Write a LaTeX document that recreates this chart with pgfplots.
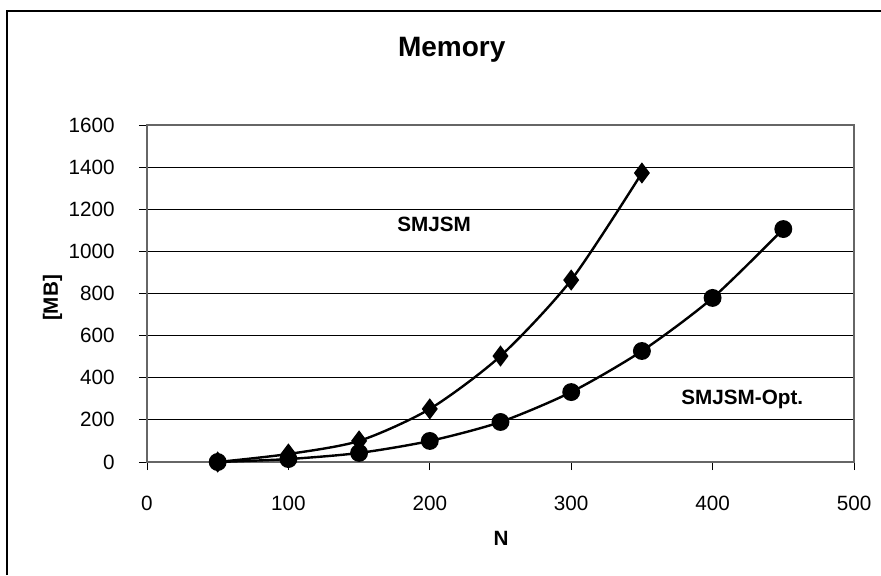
\documentclass[border=0pt]{standalone}
\usepackage{pgfplots}
\pgfplotsset{compat=1.18}
\usepackage{fontspec}
\setmainfont{Liberation Sans}
\begin{document}
\begin{tikzpicture}
\begin{axis}[
  scale only axis,
  width=530.25pt, height=252.75pt,
  xmin=0, xmax=500, ymin=0, ymax=1600,
  xtick={0,100,...,500}, ytick={0,200,...,1600},
  tick align=outside, major tick length=6pt,
  tick style={black, line width=0.6pt},
  xtick pos=bottom, ytick pos=left,
  ymajorgrids, major grid style={black, line width=0.6pt},
  axis line style={gray!80!black, line width=0.8pt},
  /pgf/number format/assume math mode=true,
  /pgf/number format/1000 sep={},
  tick label style={font=\fontsize{15.5}{17}\selectfont, inner sep=0pt},
  xticklabel style={anchor=north, yshift=-19.5pt},
  yticklabel style={anchor=east, xshift=-18pt},
  clip=false,
]
\addplot[black, line width=1.8pt, smooth, tension=0.45, mark=diamond*, mark size=6.5pt, mark options={solid}]
 coordinates {(50,0) (100,38) (150,100) (200,252) (250,503) (300,864) (350,1372)};
\addplot[black, line width=1.8pt, smooth, tension=0.45, mark=*, mark size=5.8pt]
 coordinates {(50,0) (100,14) (150,43) (200,100) (250,190) (300,332) (350,527) (400,779) (450,1106)};
\node[anchor=base, font=\bfseries\fontsize{15.5}{17}\selectfont] at (axis cs:203,1092) {SMJSM};
\node[anchor=base, font=\bfseries\fontsize{15.5}{17}\selectfont] at (axis cs:421,275) {SMJSM-Opt.};
\node[anchor=base, font=\bfseries\fontsize{21}{24}\selectfont] at (rel axis cs:0.431,1.202) {Memory};
\node[anchor=base, font=\bfseries\fontsize{15.5}{17}\selectfont] at (rel axis cs:0.5007,-0.2463) {N};
\node[anchor=base, font=\bfseries\fontsize{15.5}{17}\selectfont, rotate=90] at (rel axis cs:-0.1259,0.4866) {[MB]};
\draw[black, line width=1.3pt] (rel axis cs:-0.1980,-0.3353) -- (rel axis cs:-0.1980,1.3383) -- (rel axis cs:1.0382,1.3383);
\coordinate (bbsw) at (rel axis cs:-0.2079,-0.3353);
\coordinate (bbne) at (rel axis cs:1.0382,1.3709);
\end{axis}
\pgfresetboundingbox
\path[use as bounding box] (bbsw) rectangle (bbne);
\end{tikzpicture}
\end{document}
